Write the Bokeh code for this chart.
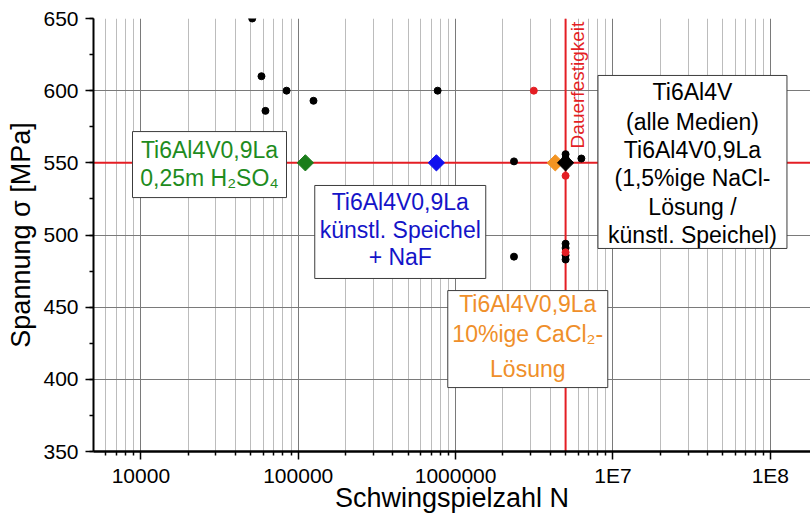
import math
from bokeh.plotting import figure
from bokeh.models import (FixedTicker, SingleIntervalTicker, CustomJSTickFormatter, Span,
                          ColumnDataSource, Range1d)
from bokeh.core.properties import value
from bokeh.embed import file_html
from bokeh.resources import INLINE

# ---------------- data ----------------
black_cycles = [51000, 58400, 61900, 84300, 125000, 769000, 2.35e6, 2.35e6,
                5.0e6, 5.0e6, 5.0e6, 5.0e6, 5.0e6, 5.0e6, 6.3e6]
black_stress = [650, 610, 586, 600, 593, 600, 551, 485,
                556, 553, 494, 491, 486, 483, 553]

red_cycles = [3.14e6, 5.0e6, 5.0e6]
red_stress = [600, 541, 488]

mean_cycles = [1.11e5, 7.55e5, 4.3e6, 5.0e6]
mean_stress = [550, 550, 550, 550]
mean_colors = ["#1b7d1b", "#1111ee", "#f39422", "#000000"]

endurance_stress = 550
endurance_cycles = 5.0e6
endurance_label = "Dauerfestigkeit"

x_tick_values = [1e4, 1e5, 1e6, 1e7, 1e8]
x_tick_labels = ["10000", "100000", "1000000", "1E7", "1E8"]
y_tick_interval = 50

x_title = "Schwingspielzahl N"
y_title = "Spannung σ [MPa]"

# annotation boxes: anchor in data coordinates
box_x = [2.73e4, 4.45e5, 2.875e6, 3.2e7]
box_y = [548.8, 502.1, 427.9, 550.6]
box_w = [154, 171, 160, 189]
box_h = [66, 93, 97, 173]
box_colors = ["#1e8c1e", "#1414c8", "#ef8f2a", "#000000"]
box_lines = [
    ["Ti6Al4V0,9La", "0,25m H₂SO₄"],
    ["Ti6Al4V0,9La", "künstl. Speichel", "+ NaF"],
    ["Ti6Al4V0,9La", "10%ige CaCl₂-", "Lösung"],
    ["Ti6Al4V", "(alle Medien)", "Ti6Al4V0,9La", "(1,5%ige NaCl-", "Lösung /", "künstl. Speichel)"],
]
box_line_offsets = [
    [-15, 13],
    [-30, -1.5, 25.5],
    [-35.5, -5.5, 29.5],
    [-69.5, -39.5, -11.5, 16.5, 45.5, 73.5],
]

FONT = "Liberation Sans"
RED = "#e41e24"

# ---------------- figure ----------------
p = figure(width=810, height=515, x_axis_type="log",
           x_range=Range1d(5000, 1.8e8), y_range=Range1d(350, 650),
           output_backend="svg", toolbar_location=None,
           min_border_left=93, min_border_right=0, min_border_top=18, min_border_bottom=64)
p.outline_line_color = None
p.background_fill_color = "white"
p.border_fill_color = "white"

minor = []
for d in range(3, 9):
    for k in range(2, 10):
        v = k * 10 ** d
        if 5000 < v < 1.8e8:
            minor.append(v)
p.xaxis.ticker = FixedTicker(ticks=x_tick_values, minor_ticks=minor)
p.xaxis.formatter = CustomJSTickFormatter(args=dict(vals=x_tick_values, labels=x_tick_labels), code="""
    for (let i = 0; i < vals.length; i++) {
        if (Math.abs(Math.log10(tick) - Math.log10(vals[i])) < 1e-6) return labels[i];
    }
    return "";
""")
p.yaxis.ticker = SingleIntervalTicker(interval=y_tick_interval, num_minor_ticks=2)

for ax in (p.xaxis[0], p.yaxis[0]):
    ax.axis_line_color = "black"
    ax.axis_line_width = 2
    ax.major_tick_line_color = "black"
    ax.major_tick_line_width = 1.5
    ax.minor_tick_line_color = "black"
    ax.minor_tick_line_width = 1.5
    ax.major_tick_in = 0
    ax.major_tick_out = 8
    ax.minor_tick_in = 0
    ax.minor_tick_out = 4
    ax.major_label_text_font = FONT
    ax.major_label_text_font_size = "21px"
    ax.major_label_text_color = "black"
    ax.axis_label_text_font = FONT
    ax.axis_label_text_font_size = "27px"
    ax.axis_label_text_font_style = "normal"
    ax.axis_label_text_color = "black"

p.xaxis.axis_line_width = 2.5
p.xaxis.axis_label = x_title
p.xaxis.major_label_standoff = 4
p.xaxis.axis_label_standoff = -7
p.yaxis.axis_label = y_title
p.yaxis.major_label_standoff = 7
p.yaxis.axis_label_standoff = 4

p.xgrid.grid_line_color = "#7a7a7a"
p.xgrid.grid_line_width = 1
p.xgrid.minor_grid_line_color = "#bcbcbc"
p.xgrid.minor_grid_line_width = 1
p.ygrid.grid_line_color = "#7a7a7a"
p.ygrid.grid_line_width = 1
p.ygrid.minor_grid_line_color = None

# endurance limit lines
p.add_layout(Span(location=endurance_stress, dimension="width", line_color=RED,
                  line_width=2, level="underlay"))
p.add_layout(Span(location=endurance_cycles, dimension="height", line_color=RED,
                  line_width=2, level="underlay"))

# individual tests
p.scatter(black_cycles, black_stress, marker="circle", size=7, color="black")
p.scatter(red_cycles, red_stress, marker="circle", size=7, color=RED)

# mean values (diamonds)
p.scatter(mean_cycles, mean_stress, marker="square", angle=math.pi / 4, size=11.5,
          fill_color=mean_colors, line_color=mean_colors)

# endurance label
p.text(x=[endurance_cycles], y=[560], text=[endurance_label], angle=math.pi / 2,
       text_align="left", text_baseline="top", x_offset=1,
       text_color=RED, text_font=value(FONT), text_font_size="19px")

# annotation boxes
p.rect(x=box_x, y=box_y, width=box_w, height=box_h,
       width_units="screen", height_units="screen",
       fill_color="white", line_color="#3c3c3c", line_width=1)

tx, ty, tt, tc, toff = [], [], [], [], []
for bx, by, col, lines, offs in zip(box_x, box_y, box_colors, box_lines, box_line_offsets):
    for line, off in zip(lines, offs):
        tx.append(bx); ty.append(by); tt.append(line); tc.append(col); toff.append(off)
src = ColumnDataSource(dict(x=tx, y=ty, text=tt, color=tc, dy=toff))
p.text(x="x", y="y", text="text", source=src, text_color="color", y_offset="dy",
       text_align="center", text_baseline="middle",
       text_font=value(FONT), text_font_size="23px")

open("out.html", "w").write(file_html(p, INLINE))
